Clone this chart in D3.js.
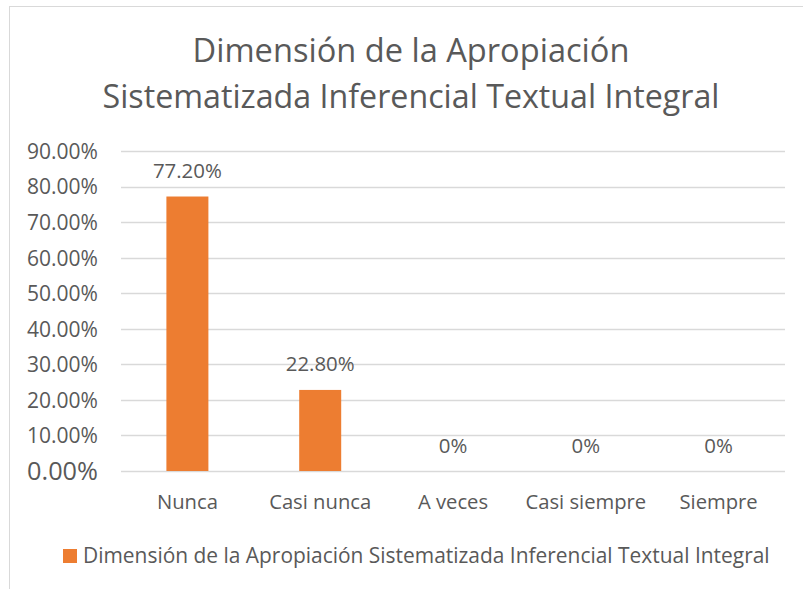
<!DOCTYPE html>
<html><head><meta charset="utf-8">
<script src="https://cdn.jsdelivr.net/npm/d3@7"></script>
<style>body{margin:0;background:#fff}svg{display:block}text{font-family:"Open Sans",Carlito,Calibri,sans-serif;fill:#595959}</style>
</head><body>
<script>
const categories = ["Nunca","Casi nunca","A veces","Casi siempre","Siempre"];
const values = [77.2, 22.8, 0, 0, 0];
const valueLabels = ["77.20%","22.80%","0%","0%","0%"];
const yTicks = [0,10,20,30,40,50,60,70,80,90];
const titleLines = ["Dimensión de la Apropiación","Sistematizada Inferencial Textual Integral"];
const seriesName = "Dimensión de la Apropiación Sistematizada Inferencial Textual Integral";

(function(){
const W=803,H=589;
const svg=d3.select("body").append("svg").attr("width",W).attr("height",H);
svg.append("rect").attr("x",9.5).attr("y",6.5).attr("width",W).attr("height",H).attr("fill","#fff").attr("stroke","#D9D9D9");

function fit(sel,target){const n=sel.node();const w=n.getComputedTextLength();const fs=parseFloat(sel.attr("font-size"));sel.attr("font-size",fs*target/w);}

const pl=121,pr=785,pt=151,pb=471;
const x=d3.scaleBand().domain(categories).range([pl,pr]);
const y=d3.scaleLinear().domain([0,90]).range([pb,pt]);

const tl=[{t:titleLines[0],y:62,w:437},{t:titleLines[1],y:108,w:617}];
tl.forEach(d=>{const s=svg.append("text").attr("x",411).attr("y",d.y).attr("text-anchor","middle").attr("font-size",30).text(d.t);fit(s,d.w);});

svg.append("g").selectAll("line").data(yTicks).join("line")
 .attr("x1",pl).attr("x2",pr).attr("y1",d=>Math.round(y(d))+0.5).attr("y2",d=>Math.round(y(d))+0.5)
 .attr("stroke","#D9D9D9").attr("stroke-width",1.3);

const yax=d3.axisLeft(y).tickValues(yTicks).tickFormat(d=>d.toFixed(2)+"%").tickSize(0).tickPadding(23);
const gy=svg.append("g").attr("transform",`translate(${pl},0)`).call(yax);
gy.select(".domain").remove();
gy.selectAll("text").attr("font-size",19).attr("fill","#595959").attr("font-family",'"Open Sans",sans-serif').attr("dy","0.35em");
gy.selectAll("text").each(function(){fit(d3.select(this),71);});

const bw=42;
svg.append("g").selectAll("rect").data(values).join("rect")
 .attr("x",(d,i)=>x(categories[i])+x.bandwidth()/2-bw/2).attr("width",bw)
 .attr("y",d=>y(d)).attr("height",d=>pb-y(d)).attr("fill","#ED7D31");

const dl=svg.append("g").selectAll("text").data(values).join("text")
 .attr("x",(d,i)=>x(categories[i])+x.bandwidth()/2).attr("y",d=>y(d)-18.5)
 .attr("text-anchor","middle").attr("font-size",18).text((d,i)=>valueLabels[i]);
const s0=dl.filter((d,i)=>i===0);fit(s0,69);const dfs=s0.attr("font-size");dl.attr("font-size",dfs);

const xax=d3.axisBottom(x).tickSize(0).tickPadding(22);
const gx=svg.append("g").attr("transform",`translate(0,${pb})`).call(xax);
gx.select(".domain").remove();
gx.selectAll("text").attr("font-size",18).attr("fill","#595959").attr("font-family",'"Open Sans",sans-serif').attr("y",38).attr("dy",0);
const n0=gx.selectAll("text").filter((d,i)=>i===0);fit(n0,61);gx.selectAll("text").attr("font-size",n0.attr("font-size"));

svg.append("rect").attr("x",63).attr("y",549).attr("width",14).attr("height",14).attr("fill","#ED7D31");
const lg=svg.append("text").attr("x",83).attr("y",563).attr("font-size",18).text(seriesName);
fit(lg,687);
})();
</script>
</body></html>
